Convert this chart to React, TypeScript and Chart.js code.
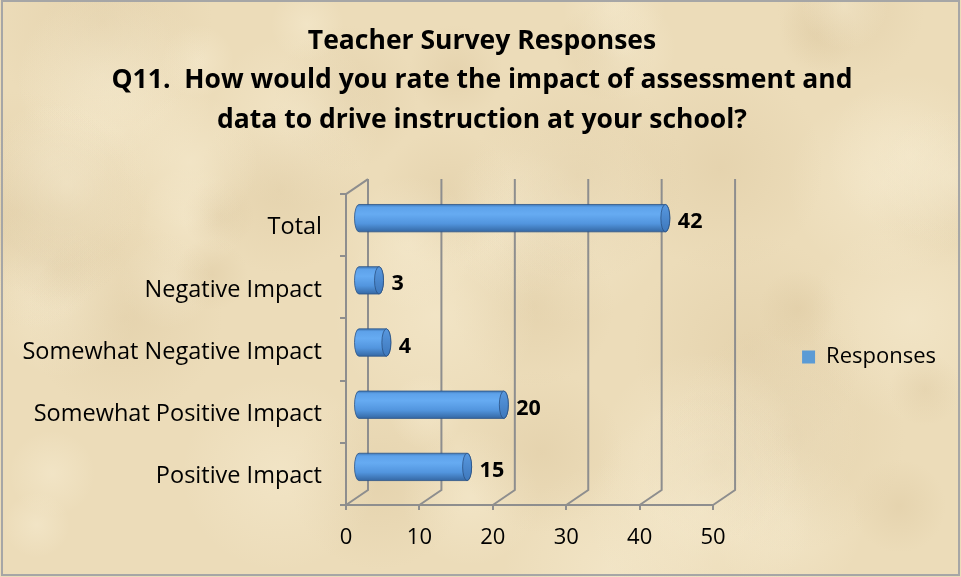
import React, { useEffect, useRef } from "react";
import { Chart, registerables } from "chart.js";

Chart.register(...registerables);

const categories = [
  "Total",
  "Negative Impact",
  "Somewhat Negative Impact",
  "Somewhat Positive Impact",
  "Positive Impact",
];
const responses = [42, 3, 4, 20, 15];
const seriesLabel = "Responses";
const titleLines = [
  "Teacher Survey Responses",
  "Q11.  How would you rate the impact of assessment and",
  "data to drive instruction at your school?",
];
const xTicks = [0, 10, 20, 30, 40, 50];

const FONT = "'Open Sans', 'DejaVu Sans', sans-serif";
const GRID = "#8e8e8e";
const DEPTH_X = 22;
const DEPTH_Y = 15;

function hash(n: number) {
  const s = Math.sin(n * 127.1 + 311.7) * 43758.5453;
  return s - Math.floor(s);
}

const scenePlugin = {
  id: "scene3d",
  beforeDraw(chart: any) {
    const { ctx, width, height } = chart;
    ctx.save();
    ctx.fillStyle = "#ecdcb9";
    ctx.fillRect(0, 0, width, height);
    for (let i = 0; i < 60; i++) {
      const cx = hash(i) * width;
      const cy = hash(i + 100) * height;
      const r = 30 + hash(i + 200) * 90;
      const light = hash(i + 300) > 0.45;
      const g = ctx.createRadialGradient(cx, cy, 0, cx, cy, r);
      g.addColorStop(0, light ? "rgba(248,238,212,0.45)" : "rgba(214,192,150,0.3)");
      g.addColorStop(1, light ? "rgba(248,238,212,0)" : "rgba(214,192,150,0)");
      ctx.fillStyle = g;
      ctx.fillRect(cx - r, cy - r, 2 * r, 2 * r);
    }
    ctx.strokeStyle = "#a6a6a6";
    ctx.lineWidth = 2;
    ctx.strokeRect(2, 1, width - 4, height - 3);
    ctx.restore();
  },
  afterLayout(chart: any) {
    if (chart.legend) {
      chart.legend.top += 7.5;
      chart.legend.bottom += 7.5;
    }
    if (chart.titleBlock) {
      chart.titleBlock.left += 9;
      chart.titleBlock.right += 9;
    }
  },
  beforeDatasetsDraw(chart: any) {
    const { ctx, chartArea } = chart;
    const xs = chart.scales.x;
    ctx.save();
    // back wall / floor
    ctx.strokeStyle = GRID;
    ctx.lineWidth = 2;
    ctx.beginPath();
    const top = chartArea.top - DEPTH_Y;
    const floorBack = chartArea.bottom - DEPTH_Y;
    ctx.moveTo(chartArea.left, chartArea.top);
    ctx.lineTo(chartArea.left + DEPTH_X, top);
    for (const v of xTicks) {
      const px = xs.getPixelForValue(v);
      ctx.moveTo(px, chartArea.bottom);
      ctx.lineTo(px + DEPTH_X, floorBack);
      ctx.lineTo(px + DEPTH_X, top);
    }
    ctx.stroke();

    // cylinders
    const meta = chart.getDatasetMeta(0);
    const ds = chart.data.datasets[0];
    meta.data.forEach((el: any, i: number) => {
      const h = el.height;
      const yc = el.y - 7;
      const xL = el.base + DEPTH_X / 2 + 1;
      const xR = el.x + DEPTH_X / 2;
      const rx = 4.5;
      const ry = h / 2;
      const t = yc - ry;
      const b = yc + ry;
      const g = ctx.createLinearGradient(0, t, 0, b);
      g.addColorStop(0, "#4079b8");
      g.addColorStop(0.1, "#5ea2ea");
      g.addColorStop(0.35, "#66abf2");
      g.addColorStop(0.7, "#5295de");
      g.addColorStop(1, "#3568a4");
      ctx.beginPath();
      ctx.moveTo(xL, t);
      ctx.lineTo(xR, t);
      ctx.ellipse(xR, yc, rx, ry, 0, -Math.PI / 2, Math.PI / 2, false);
      ctx.lineTo(xL, b);
      ctx.ellipse(xL, yc, rx, ry, 0, Math.PI / 2, (3 * Math.PI) / 2, false);
      ctx.closePath();
      ctx.fillStyle = g;
      ctx.fill();
      ctx.strokeStyle = "rgba(45,85,135,0.8)";
      ctx.lineWidth = 1;
      ctx.stroke();
      const gc = ctx.createLinearGradient(0, t, 0, b);
      gc.addColorStop(0, "#5898df");
      gc.addColorStop(1, "#3e78bc");
      ctx.beginPath();
      ctx.ellipse(xR, yc, rx, ry, 0, 0, Math.PI * 2);
      ctx.fillStyle = gc;
      ctx.fill();
      ctx.strokeStyle = "rgba(40,78,125,0.75)";
      ctx.stroke();

      // value label
      ctx.fillStyle = "#000";
      ctx.font = `bold 21.5px ${FONT}`;
      ctx.textAlign = "left";
      ctx.textBaseline = "middle";
      ctx.fillText(String(ds.data[i]), xR + rx + 8, el.y - 3);
    });
    ctx.restore();
    return false;
  },
};

export default function App() {
  const ref = useRef<HTMLCanvasElement | null>(null);
  useEffect(() => {
    document.body.style.margin = "0";
    if (!ref.current) return;
    const chart = new Chart(ref.current, {
      type: "bar",
      data: {
        labels: categories,
        datasets: [
          {
            label: seriesLabel,
            data: responses,
            backgroundColor: "#5b9bd5",
            borderWidth: 0,
            categoryPercentage: 1,
            barPercentage: 0.44,
          },
        ],
      },
      options: {
        indexAxis: "y",
        responsive: false,
        animation: false,
        layout: { padding: { left: 0, right: 15, top: 0, bottom: 0 } },
        plugins: {
          title: {
            display: true,
            text: titleLines,
            color: "#000",
            font: { family: FONT, size: 26.5, weight: "bold", lineHeight: 1.48 },
            padding: { top: 22, bottom: 54.4 },
          },
          legend: {
            position: "right",
            fullSize: false,
            labels: {
              boxWidth: 13,
              boxHeight: 13,
              padding: 89,
              color: "#000",
              font: { family: FONT, size: 22 },
            },
          },
          tooltip: { enabled: false },
        },
        scales: {
          x: {
            min: 0,
            max: 50,
            afterBuildTicks: (s: any) => {
              s.ticks = xTicks.map((v) => ({ value: v }));
            },
            grid: { drawOnChartArea: false, tickLength: 5, color: GRID, lineWidth: 2 },
            border: { display: true, color: GRID, width: 2 },
            ticks: { color: "#000", font: { family: FONT, size: 22 }, padding: 15 },
            afterFit: (s: any) => {
              s.height = 72;
            },
          },
          y: {
            grid: { drawOnChartArea: false, tickLength: 6, color: GRID, lineWidth: 2 },
            border: { display: true, color: GRID, width: 2 },
            ticks: {
              color: "#000",
              font: { family: FONT, size: 23.5 },
              padding: 18,
              labelOffset: 2.5,
            },
            afterFit: (s: any) => {
              s.width = 346;
            },
          },
        },
      },
      plugins: [scenePlugin],
    });
    return () => chart.destroy();
  }, []);
  return (
    <div style={{ width: 961, height: 577 }}>
      <canvas ref={ref} width={961} height={577} style={{ display: "block" }} />
    </div>
  );
}
